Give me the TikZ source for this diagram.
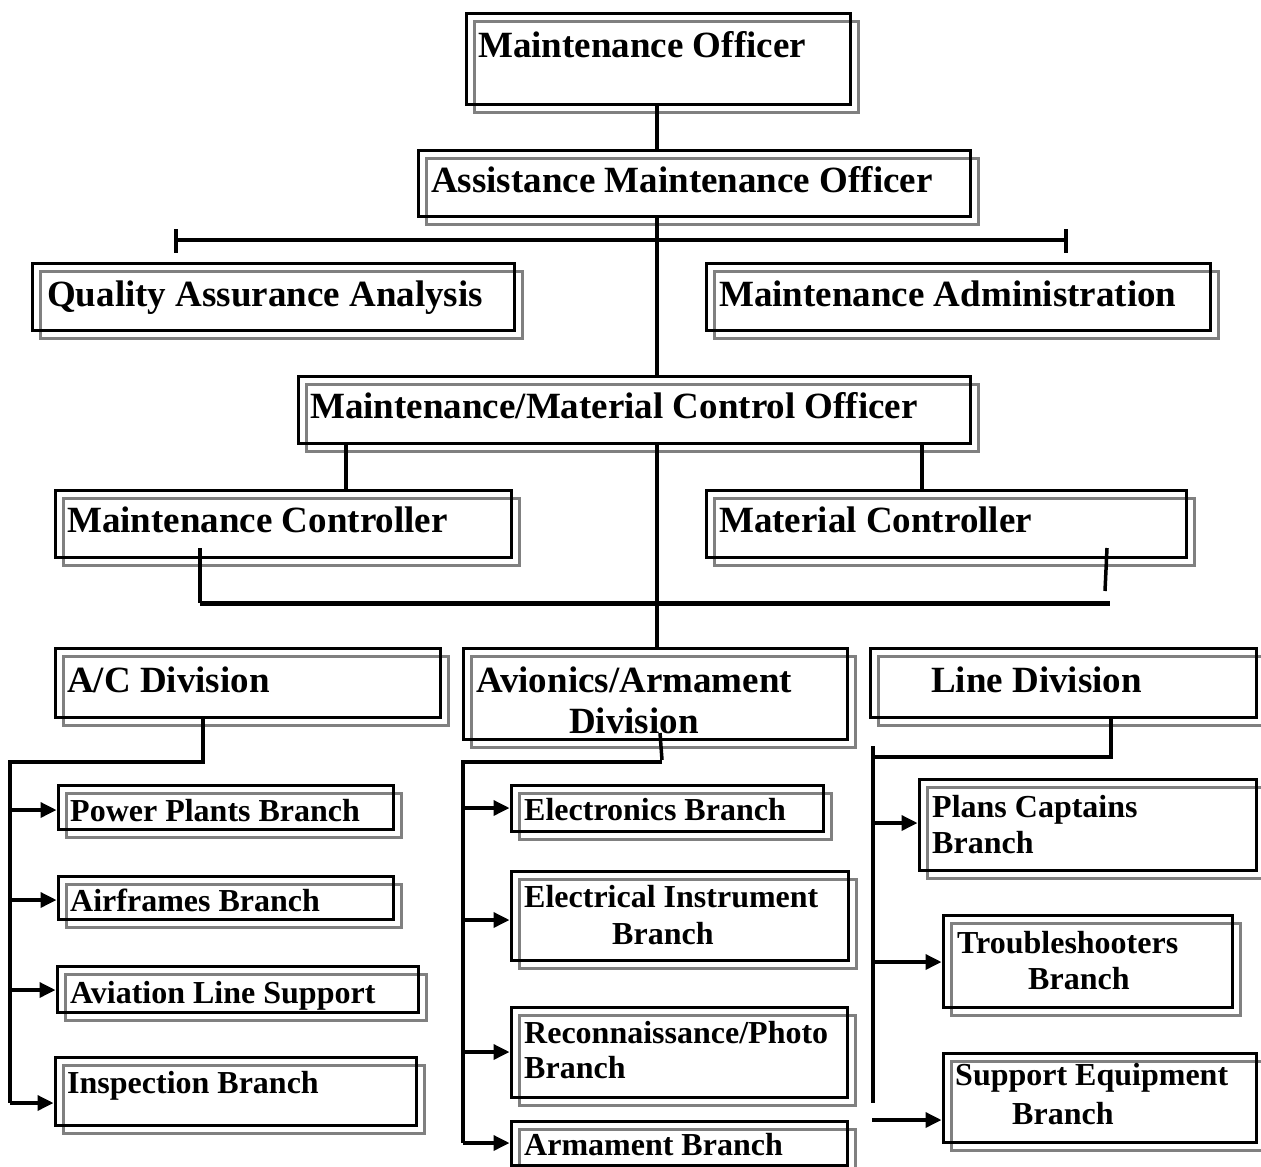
\documentclass[tikz,border=0pt]{standalone}
\usepackage{fontspec}
\setmainfont{Liberation Serif}
\usetikzlibrary{arrows.meta,fit}
\newcommand\orgbox[5]{%
  \draw[shadowline] ({#2+8},{#3+8}) rectangle ({#4+8},{#5+8});
  \coordinate (#1-a) at (#2,#3);
  \coordinate (#1-b) at (#4,#5);
  \node[boxline,fit=(#1-a)(#1-b),inner sep=0pt] (#1) {};
}
\begin{document}
\begin{tikzpicture}[x=1pt,y=-1pt,
  boxline/.style={draw=black,line width=3pt},
  shadowline/.style={draw=black!50,line width=3pt},
  conn/.style={line width=3.5pt},
  thickbar/.style={line width=5pt},
  arr/.style={line width=3.5pt,-{Triangle[length=16pt,width=15pt]}},
  bigtxt/.style={anchor=base west,inner sep=0pt,font=\fontsize{37}{42}\selectfont\bfseries},
  smalltxt/.style={anchor=base west,inner sep=0pt,font=\fontsize{32}{37}\selectfont\bfseries}]
\useasboundingbox[fill=white] (0,0) rectangle (1261,1167);

% boxes
\orgbox{mo}{466}{13}{850}{104}
\orgbox{amo}{418}{150}{970}{216}
\orgbox{qa}{32}{263}{514}{330}
\orgbox{ma}{706}{263}{1210}{330}
\orgbox{mmco}{298}{376}{970}{443}
\orgbox{mc}{55}{490}{511}{557}
\orgbox{matc}{706}{490}{1186}{557}
\orgbox{acd}{55}{648}{440}{717}
\orgbox{avd}{463}{648}{847}{739}
\orgbox{lnd}{870}{648}{1256}{717}
\orgbox{pp}{58}{785}{393}{829}
\orgbox{af}{58}{876}{393}{919}
\orgbox{als}{57}{966}{418}{1012}
\orgbox{insp}{55}{1057}{416}{1125}
\orgbox{el}{511}{785}{823}{831}
\orgbox{ei}{511}{871}{848}{960}
\orgbox{rp}{511}{1007}{847}{1097}
\orgbox{ar}{511}{1121}{847}{1165}
\orgbox{pc}{919}{779}{1256}{870}
\orgbox{tr}{943}{915}{1232}{1007}
\orgbox{se}{943}{1053}{1256}{1142}

% texts
\node[bigtxt] (t-mo) at (478,57) {Maintenance Officer};
\node[bigtxt] (t-amo) at (431,192) {Assistance Maintenance Officer};
\node[bigtxt] (t-qa) at (47,306) {Quality Assurance Analysis};
\node[bigtxt] (t-ma) at (719,306) {Maintenance Administration};
\node[bigtxt] (t-mmco) at (310,418) {Maintenance/Material Control Officer};
\node[bigtxt] (t-mc) at (67,532) {Maintenance Controller};
\node[bigtxt] (t-matc) at (719,532) {Material Controller};
\node[bigtxt] (t-acd) at (67,692) {A/C Division};
\node[bigtxt] (t-avd1) at (476,692) {Avionics/Armament};
\node[bigtxt] (t-avd2) at (569,733) {Division};
\node[bigtxt] (t-lnd) at (931,692) {Line Division};

\node[smalltxt] (t-pp) at (70,821) {Power Plants Branch};
\node[smalltxt] (t-af) at (70,911) {Airframes Branch};
\node[smalltxt] (t-als) at (70,1003) {Aviation Line Support};
\node[smalltxt] (t-insp) at (67,1093) {Inspection Branch};
\node[smalltxt] (t-el) at (524,820) {Electronics Branch};
\node[smalltxt] (t-ei1) at (524,907) {Electrical Instrument};
\node[smalltxt] (t-ei2) at (612,944) {Branch};
\node[smalltxt] (t-rp1) at (524,1043) {Reconnaissance/Photo};
\node[smalltxt] (t-rp2) at (524,1078) {Branch};
\node[smalltxt] (t-ar) at (524,1155) {Armament Branch};
\node[smalltxt] (t-pc1) at (932,817) {Plans Captains};
\node[smalltxt] (t-pc2) at (932,853) {Branch};
\node[smalltxt] (t-tr1) at (957,953) {Troubleshooters};
\node[smalltxt] (t-tr2) at (1028,989) {Branch};
\node[smalltxt] (t-se1) at (955,1085) {Support Equipment};
\node[smalltxt] (t-se2) at (1012,1124) {Branch};

% coordinates
\coordinate (j0) at (657,0);
\coordinate (j1) at (346,0);
\coordinate (j2) at (922,0);
\coordinate (qL) at (176,240);
\coordinate (qR) at (1066,240);
\coordinate (qL1) at (176,229);
\coordinate (qL2) at (176,253);
\coordinate (qR1) at (1066,229);
\coordinate (qR2) at (1066,253);
\coordinate (bL) at (200,603);
\coordinate (bR) at (1110,603);
\coordinate (mcT) at (200,548);
\coordinate (mtT) at (1107,548);
\coordinate (mtB) at (1105,591);

% top chain
\draw[conn] (mo.south -| j0) -- (amo.north -| j0);
\draw[conn] (amo.south -| j0) -- (mmco.north -| j0);
\draw[conn] (mmco.south -| j0) -- (avd.north -| j0);
\draw[conn] (qL) -- (qR);
\draw[conn] (qL1) -- (qL2);
\draw[conn] (qR1) -- (qR2);
\draw[conn] (mmco.south -| j1) -- (mc.north -| j1);
\draw[conn] (mmco.south -| j2) -- (matc.north -| j2);
\draw[thickbar] (bL) -- (bR);
\draw[conn] (mcT) -- (bL);
\draw[conn] (mtT) -- (mtB);

% A/C division
\coordinate (a0) at (203,762);
\coordinate (a1) at (10,762);
\coordinate (a2) at (10,810);
\coordinate (a3) at (10,900);
\coordinate (a4) at (10,990);
\coordinate (a5) at (10,1103);
\draw[conn] (acd.south -| a0) -- (a0) -- (a1) -- (a5);
\draw[arr] (a2) -- (a2 -| pp.west);
\draw[arr] (a3) -- (a3 -| af.west);
\draw[arr] (a4) -- (a4 -| als.west);
\draw[arr] (a5) -- (a5 -| insp.west);

% Avionics division
\coordinate (v0) at (660,733);
\coordinate (v1) at (662,760);
\coordinate (v2) at (463,762);
\coordinate (v3) at (463,808);
\coordinate (v4) at (463,920);
\coordinate (v5) at (463,1052);
\coordinate (v6) at (463,1143);
\coordinate (v7) at (662,762);
\draw[conn] (v0) -- (v1);
\draw[conn] (v7) -- (v2) -- (v6);
\draw[arr] (v3) -- (v3 -| el.west);
\draw[arr] (v4) -- (v4 -| ei.west);
\draw[arr] (v5) -- (v5 -| rp.west);
\draw[arr] (v6) -- (v6 -| ar.west);

% Line division
\coordinate (n0) at (1111,757);
\coordinate (n1) at (873,757);
\coordinate (nT) at (873,746);
\coordinate (nB) at (873,1103);
\coordinate (n2) at (873,823);
\coordinate (n3) at (873,962);
\coordinate (n4) at (872,1120);
\draw[conn] (lnd.south -| n0) -- (n0) -- (n1);
\draw[conn] (nT) -- (nB);
\draw[arr] (n2) -- (n2 -| pc.west);
\draw[arr] (n3) -- (n3 -| tr.west);
\draw[arr] (n4) -- (n4 -| se.west);
\end{tikzpicture}
\end{document}
